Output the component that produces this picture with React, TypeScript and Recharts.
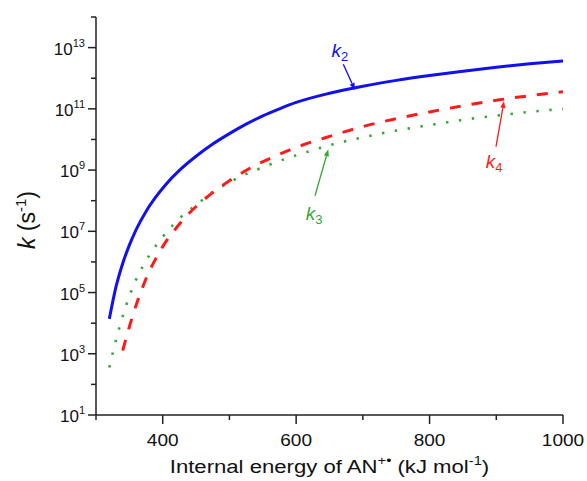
import React from "react";
import { LineChart, Line, XAxis, YAxis, ReferenceLine, ReferenceDot, Label } from "recharts";

// energies (kJ/mol) and log10 of the rate constants
const energyK2 = [320, 330, 340, 350, 360, 375, 390, 405, 425, 450, 475, 500, 525, 550, 575, 600, 650, 700, 750, 800, 850, 900, 950, 1000];
const logK2 = [4.14, 5.19, 5.95, 6.55, 7.05, 7.65, 8.13, 8.54, 8.99, 9.45, 9.85, 10.19, 10.5, 10.77, 11.0, 11.21, 11.51, 11.74, 11.93, 12.09, 12.23, 12.36, 12.47, 12.56];

const energyK3 = [320, 325, 330, 335, 340, 350, 360, 370, 380, 395, 410, 430, 450, 475, 500, 525, 550, 575, 600, 650, 700, 750, 800, 850, 900, 950, 1000];
const logK3 = [2.55, 3.02, 3.45, 3.85, 4.22, 4.88, 5.42, 5.85, 6.22, 6.68, 7.08, 7.52, 7.86, 8.28, 8.6, 8.87, 9.09, 9.3, 9.48, 9.81, 10.07, 10.29, 10.47, 10.64, 10.78, 10.9, 11.0];

const energyK4 = [340, 350, 360, 370, 380, 390, 400, 420, 440, 460, 480, 500, 530, 570, 600, 650, 700, 750, 800, 850, 900, 950, 1000];
const logK4 = [3.1, 3.88, 4.58, 5.18, 5.7, 6.12, 6.5, 7.1, 7.6, 8.0, 8.35, 8.65, 9.05, 9.47, 9.74, 10.1, 10.42, 10.68, 10.9, 11.1, 11.28, 11.43, 11.56];

const xTicks = [300, 400, 500, 600, 700, 800, 900, 1000];
const xLabelTicks = [400, 600, 800, 1000];
const yTickExps = [1, 2, 3, 4, 5, 6, 7, 8, 9, 10, 11, 12, 13, 14];
const yLabelExps = [1, 3, 5, 7, 9, 11, 13];

const k2Data = energyK2.map((E, i) => ({ E, k: 10 ** logK2[i] }));
const k3Data = energyK3.map((E, i) => ({ E, k: 10 ** logK3[i] }));
const k4Data = energyK4.map((E, i) => ({ E, k: 10 ** logK4[i] }));

const font = "'Liberation Sans', Arial, sans-serif";
const axisColor = "#222";
const blue = "#1010f0";
const red = "#ff1a1a";
const green = "#33aa33";

function XTick(props: any) {
  const { x, y, payload } = props;
  const major = xLabelTicks.includes(payload.value);
  return (
    <g>
      <line x1={x} x2={x} y1={y} y2={y + (major ? 9 : 5)} stroke={axisColor} strokeWidth={1.5} />
      {major && (
        <text
          x={x}
          y={y + 31}
          textAnchor="middle"
          fontSize={17}
          fontFamily={font}
          fill="#111"
          transform={`translate(${x} 0) scale(1.12 1) translate(${-x} 0)`}
        >
          {payload.value}
        </text>
      )}
    </g>
  );
}

function YTick(props: any) {
  const { x, y, payload } = props;
  const exp = Math.round(Math.log10(payload.value));
  const major = yLabelExps.includes(exp);
  return (
    <g>
      <line x1={x} x2={x - (major ? 8 : 5)} y1={y} y2={y} stroke={axisColor} strokeWidth={1.5} />
      {major && (
        <text x={x - 11} y={y + 7} textAnchor="end" fontSize={17} fontFamily={font} fill="#111">
          10
          <tspan dy={-8} fontSize={11}>
            {exp}
          </tspan>
        </text>
      )}
    </g>
  );
}

function Arrow(props: any) {
  const { x1, y1, x2, y2, stroke } = props;
  const dx = x2 - x1;
  const dy = y2 - y1;
  const len = Math.sqrt(dx * dx + dy * dy) || 1;
  const ux = dx / len;
  const uy = dy / len;
  const hl = 7;
  const hw = 2.6;
  const bx = x2 - ux * hl;
  const by = y2 - uy * hl;
  return (
    <g>
      <line x1={x1} y1={y1} x2={bx} y2={by} stroke={stroke} strokeWidth={1.3} />
      <polygon
        points={`${x2},${y2} ${bx - uy * hw},${by + ux * hw} ${bx + uy * hw},${by - ux * hw}`}
        fill={stroke}
      />
    </g>
  );
}

function kLabel(sub: string, color: string) {
  return (p: any) => (
    <text x={p.cx} y={p.cy} textAnchor="middle" fontFamily={font} fill={color} fontSize={19}>
      <tspan fontStyle="italic">k</tspan>
      <tspan dy={4} fontSize={13}>
        {sub}
      </tspan>
    </text>
  );
}

function XTitle(props: any) {
  const { x, y, width } = props.viewBox;
  const cx = x + width / 2;
  return (
    <text
      x={cx}
      y={y + 58}
      textAnchor="middle"
      fontSize={18}
      fontFamily={font}
      fill="#111"
      transform={`translate(${cx} 0) scale(1.23 1) translate(${-cx} 0)`}
    >
      Internal energy of AN
      <tspan dy={-8} fontSize={12}>+•</tspan>
      <tspan dy={8}> (kJ mol</tspan>
      <tspan dy={-8} fontSize={12}>-1</tspan>
      <tspan dy={8}>)</tspan>
    </text>
  );
}

function YTitle(props: any) {
  const { x, y, height } = props.viewBox;
  const cx = x + 35;
  const cy = y + height / 2 + 4;
  return (
    <text
      x={cx}
      y={cy}
      transform={`rotate(-90 ${cx} ${cy})`}
      textAnchor="middle"
      fontSize={23}
      fontFamily={font}
      fill="#111"
    >
      <tspan fontStyle="italic">k</tspan>
      <tspan> (s</tspan>
      <tspan dy={-9} fontSize={15}>-1</tspan>
      <tspan dy={9}>)</tspan>
    </text>
  );
}

export default function App() {
  return (
    <div style={{ position: "absolute", left: 0, top: 0, background: "#fff" }}>
      <LineChart width={587} height={481} margin={{ top: 17, right: 24, bottom: 0, left: 0 }}>
        <XAxis
          dataKey="E"
          type="number"
          domain={[300, 1000]}
          ticks={xTicks}
          allowDataOverflow
          height={66}
          tickSize={0}
          tickMargin={0}
          tickLine={false}
          tick={<XTick />}
          axisLine={{ stroke: axisColor, strokeWidth: 1.5 }}
          interval={0}
        >
          <Label content={<XTitle />} />
        </XAxis>
        <XAxis
          xAxisId="top"
          orientation="top"
          type="number"
          domain={[300, 1000]}
          height={0}
          tick={false}
          tickLine={false}
          axisLine={{ stroke: axisColor, strokeWidth: 1.5 }}
        />
        <YAxis
          type="number"
          scale="log"
          domain={[10, 1e14]}
          ticks={yTickExps.map((e) => 10 ** e)}
          allowDataOverflow
          width={96}
          tickSize={0}
          tickMargin={0}
          tickLine={false}
          tick={<YTick />}
          axisLine={{ stroke: axisColor, strokeWidth: 1.5 }}
          interval={0}
        >
          <Label content={<YTitle />} />
        </YAxis>
        <YAxis
          yAxisId="right"
          orientation="right"
          type="number"
          domain={[0, 1]}
          width={0}
          tick={false}
          tickLine={false}
          axisLine={{ stroke: axisColor, strokeWidth: 1.5 }}
        />

        <Line data={k3Data} dataKey="k" type="monotone" stroke={green} strokeWidth={2.6} strokeDasharray="2.4 10.6" dot={false} isAnimationActive={false} />
        <Line data={k4Data} dataKey="k" type="monotone" stroke={red} strokeWidth={3} strokeDasharray="11 11" dot={false} isAnimationActive={false} />
        <Line data={k2Data} dataKey="k" type="monotone" stroke={blue} strokeWidth={3} dot={false} isAnimationActive={false} />

        <ReferenceLine segment={[{ x: 670.7, y: 10 ** 12.455 }, { x: 688.2, y: 10 ** 11.616 }]} stroke={blue} shape={<Arrow />} />
        <ReferenceLine segment={[{ x: 899.6, y: 10 ** 9.764 }, { x: 911.6, y: 10 ** 11.256 }]} stroke={red} shape={<Arrow />} />
        <ReferenceLine segment={[{ x: 628.3, y: 10 ** 8.163 }, { x: 648.2, y: 10 ** 9.679 }]} stroke={green} shape={<Arrow />} />

        <ReferenceDot x={665.7} y={10 ** 12.69} r={0} shape={kLabel("2", blue)} />
        <ReferenceDot x={896.6} y={10 ** 9.058} r={0} shape={kLabel("4", red)} />
        <ReferenceDot x={626.8} y={10 ** 7.369} r={0} shape={kLabel("3", green)} />
      </LineChart>
    </div>
  );
}
